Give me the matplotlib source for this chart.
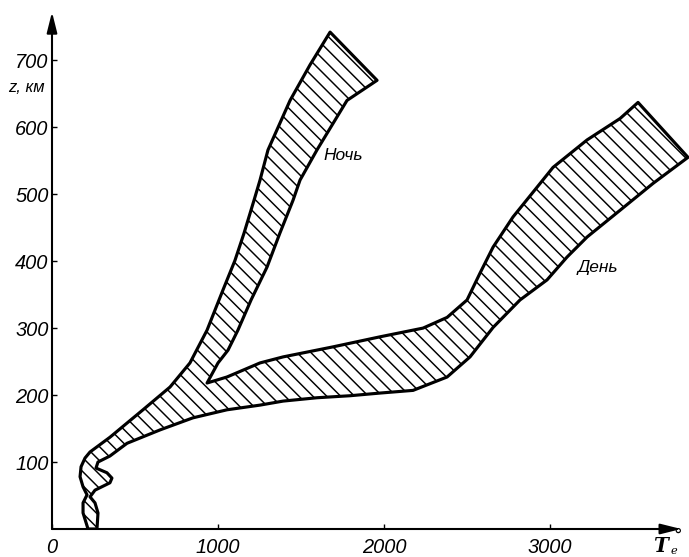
import matplotlib
matplotlib.use("Agg")
import matplotlib.pyplot as plt
from matplotlib.patches import Polygon
import numpy as np

# координаты контура (T, K ; z, км)
left_T = [217, 187, 187, 211, 187, 169, 175, 199, 229, 349, 548, 711, 831, 934,
          1030, 1102, 1157, 1217, 1253, 1301, 1434, 1554, 1675]
left_z = [0, 24, 39, 51, 63, 78, 93, 106, 115, 137, 178, 212, 248, 297,
          357, 401, 442, 491, 521, 566, 640, 693, 742]

night_T = [1958, 1777, 1596, 1494, 1452, 1373, 1295, 1199, 1120, 1060, 1000, 934]
night_z = [670, 640, 566, 521, 491, 442, 391, 342, 297, 267, 248, 218]

day_up_T = [934, 1054, 1253, 1392, 1693, 1976, 2235, 2380, 2500, 2578, 2657, 2777,
            2940, 3018, 3223, 3422, 3530]
day_up_z = [218, 227, 248, 257, 272, 287, 300, 316, 342, 382, 421, 466,
            516, 540, 581, 613, 637]

low_T = [3831, 3620, 3422, 3223, 3102, 2982, 2819, 2657, 2518, 2380, 2175, 1976,
         1795, 1596, 1392, 1253, 1054, 849, 651, 452, 349, 277, 265, 331, 361,
         349, 259, 229, 259, 277, 271]
low_z = [555, 516, 476, 436, 406, 372, 342, 301, 257, 227, 207, 203,
         199, 196, 191, 185, 178, 166, 148, 128, 109, 100, 91, 84, 76,
         69, 58, 48, 39, 24, 0]

x_ticks = [0, 1000, 2000, 3000]
y_ticks = [100, 200, 300, 400, 500, 600, 700]

DPI = 125
plt.rcParams['hatch.linewidth'] = 0.85
fam = ['Liberation Sans', 'DejaVu Sans']

fig = plt.figure(figsize=(689 / DPI, 557 / DPI), dpi=DPI)
ax = fig.add_axes([52 / 689, 28 / 557, 637 / 689, 521 / 557])
ax.set_xlim(0, 3837)
ax.set_ylim(0, 778)

T_all = left_T + night_T + day_up_T + low_T
z_all = left_z + night_z + day_up_z + low_z
poly = Polygon(np.column_stack([T_all, z_all]), closed=True, fill=False,
               hatch='\\\\\\', edgecolor='black', linewidth=1.8, joinstyle='round')
ax.add_patch(poly)

for s in ax.spines.values():
    s.set_visible(False)

# оси со стрелками
ax.annotate('', xy=(3790, 0), xytext=(0, 0), annotation_clip=False,
            arrowprops=dict(arrowstyle='-|>,head_length=1.0,head_width=0.25',
                            color='black', lw=1.2, shrinkA=0, shrinkB=0))
ax.annotate('', xy=(0, 772), xytext=(0, 0), annotation_clip=False,
            arrowprops=dict(arrowstyle='-|>,head_length=1.0,head_width=0.25',
                            color='black', lw=1.2, shrinkA=0, shrinkB=0))

ax.set_xticks(x_ticks)
ax.set_yticks(y_ticks)
ax.set_xticklabels([str(v) for v in x_ticks], family=fam, style='italic', fontsize=11.5)
ax.set_yticklabels([str(v) for v in y_ticks], family=fam, style='italic', fontsize=11.5)
ax.tick_params(axis='both', direction='in', length=3, width=0.8)
ax.tick_params(axis='x', pad=5)
ax.tick_params(axis='y', pad=2)

ax.text(1753, 558, 'Ночь', family=fam, style='italic', fontsize=10,
        ha='center', va='center')
ax.text(3289, 391, 'День', family=fam, style='italic', fontsize=10,
        ha='center', va='center')

fig.text(26 / 689, 1 - 87 / 557, 'z, км', family=fam, style='italic',
         fontsize=9.5, ha='center', va='center')
fig.text(661 / 689, 1 - 546 / 557, 'T', family='DejaVu Serif', style='italic',
         weight='bold', fontsize=11.5, ha='center', va='center')
fig.text(674 / 689, 1 - 551 / 557, 'e', family='DejaVu Serif', style='italic',
         fontsize=6.5, ha='center', va='center')
fig.text(678 / 689, 1 - 536 / 557, '°', family='DejaVu Sans',
         fontsize=10, ha='center', va='center')

fig.savefig('out.png', dpi=DPI)
